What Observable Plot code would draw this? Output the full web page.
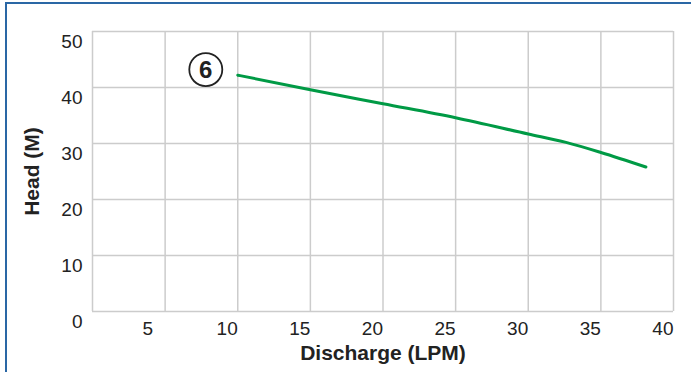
<!DOCTYPE html>
<html>
<head>
<meta charset="utf-8">
<script src="https://cdn.jsdelivr.net/npm/d3@7"></script>
<script src="https://cdn.jsdelivr.net/npm/@observablehq/plot@0.6"></script>
<style>
  html, body { margin: 0; padding: 0; background: #fff; }
  #wrap { position: relative; width: 691px; height: 372px; overflow: hidden; }
  #border { position: absolute; left: 5px; top: 2px; width: 800px; height: 500px;
            border-left: 2px solid #2a67a5; border-top: 2px solid #2a67a5; pointer-events: none; }
  svg { font-family: "Liberation Sans", Arial, Helvetica, sans-serif; }
</style>
</head>
<body>
<div id="wrap"><div id="border"></div></div>
<script>
// Data
const discharge = [10, 15, 20, 25, 30, 32.6, 35, 38.1];
const head      = [42.2, 39.6, 37.1, 34.6, 31.7, 30.2, 28.4, 25.8];
const xTicks = [5, 10, 15, 20, 25, 30, 35, 40];
const xGrid  = [0, 5, 10, 15, 20, 25, 30, 35, 40];
const yTicks = [0, 10, 20, 30, 40, 50];
const curveLabel = "6";
const curveLabelPos = [7.8, 43.2];
const xTitle = "Discharge (LPM)";
const yTitle = "Head (M)";

const rows = discharge.map((d, i) => ({x: d, y: head[i]}));

const chart = Plot.plot({
  width: 691,
  height: 372,
  marginLeft: 92,
  marginRight: 18,
  marginTop: 31,
  marginBottom: 61,
  style: {fontFamily: "Liberation Sans, Arial, sans-serif", background: "transparent"},
  x: {domain: [0, 40]},
  y: {domain: [0, 50]},
  marks: [
    Plot.gridX(xGrid, {stroke: "#cccccc", strokeOpacity: 1, strokeWidth: 1.5}),
    Plot.gridY(yTicks, {stroke: "#cccccc", strokeOpacity: 1, strokeWidth: 1.5}),
    Plot.axisX([5], {tickSize: 0, tickPadding: 10, textAnchor: "end", dx: -12, fontSize: 19, fill: "#222", label: null}),
    Plot.axisX(xTicks.filter(d => d !== 5), {tickSize: 0, tickPadding: 10, textAnchor: "end", dx: 0, fontSize: 19, fill: "#222", label: null}),
    Plot.axisY(yTicks, {tickSize: 0, tickPadding: 10, dy: 10, fontSize: 19, fill: "#222", label: null}),
    Plot.line(rows, {x: "x", y: "y", stroke: "#009a45", strokeWidth: 3, curve: "monotone-x"}),
    Plot.dot([curveLabelPos], {x: d => d[0], y: d => d[1], r: 16.5, stroke: "#222", strokeWidth: 1.8, fill: "white"}),
    Plot.text([curveLabelPos], {x: d => d[0], y: d => d[1], text: () => curveLabel, fontSize: 24, fontWeight: "bold", fill: "#222", dy: 1}),
    Plot.text([xTitle], {frameAnchor: "bottom", textAnchor: "middle", lineAnchor: "middle", text: d => d, dy: 42, fontSize: 21, fontWeight: "bold", fill: "#222"}),
    Plot.text([yTitle], {frameAnchor: "left", textAnchor: "middle", lineAnchor: "middle", text: d => d, dx: -60, rotate: -90, fontSize: 21, fontWeight: "bold", fill: "#222"})
  ]
});
document.getElementById("wrap").insertBefore(chart, document.getElementById("border"));
</script>
</body>
</html>
